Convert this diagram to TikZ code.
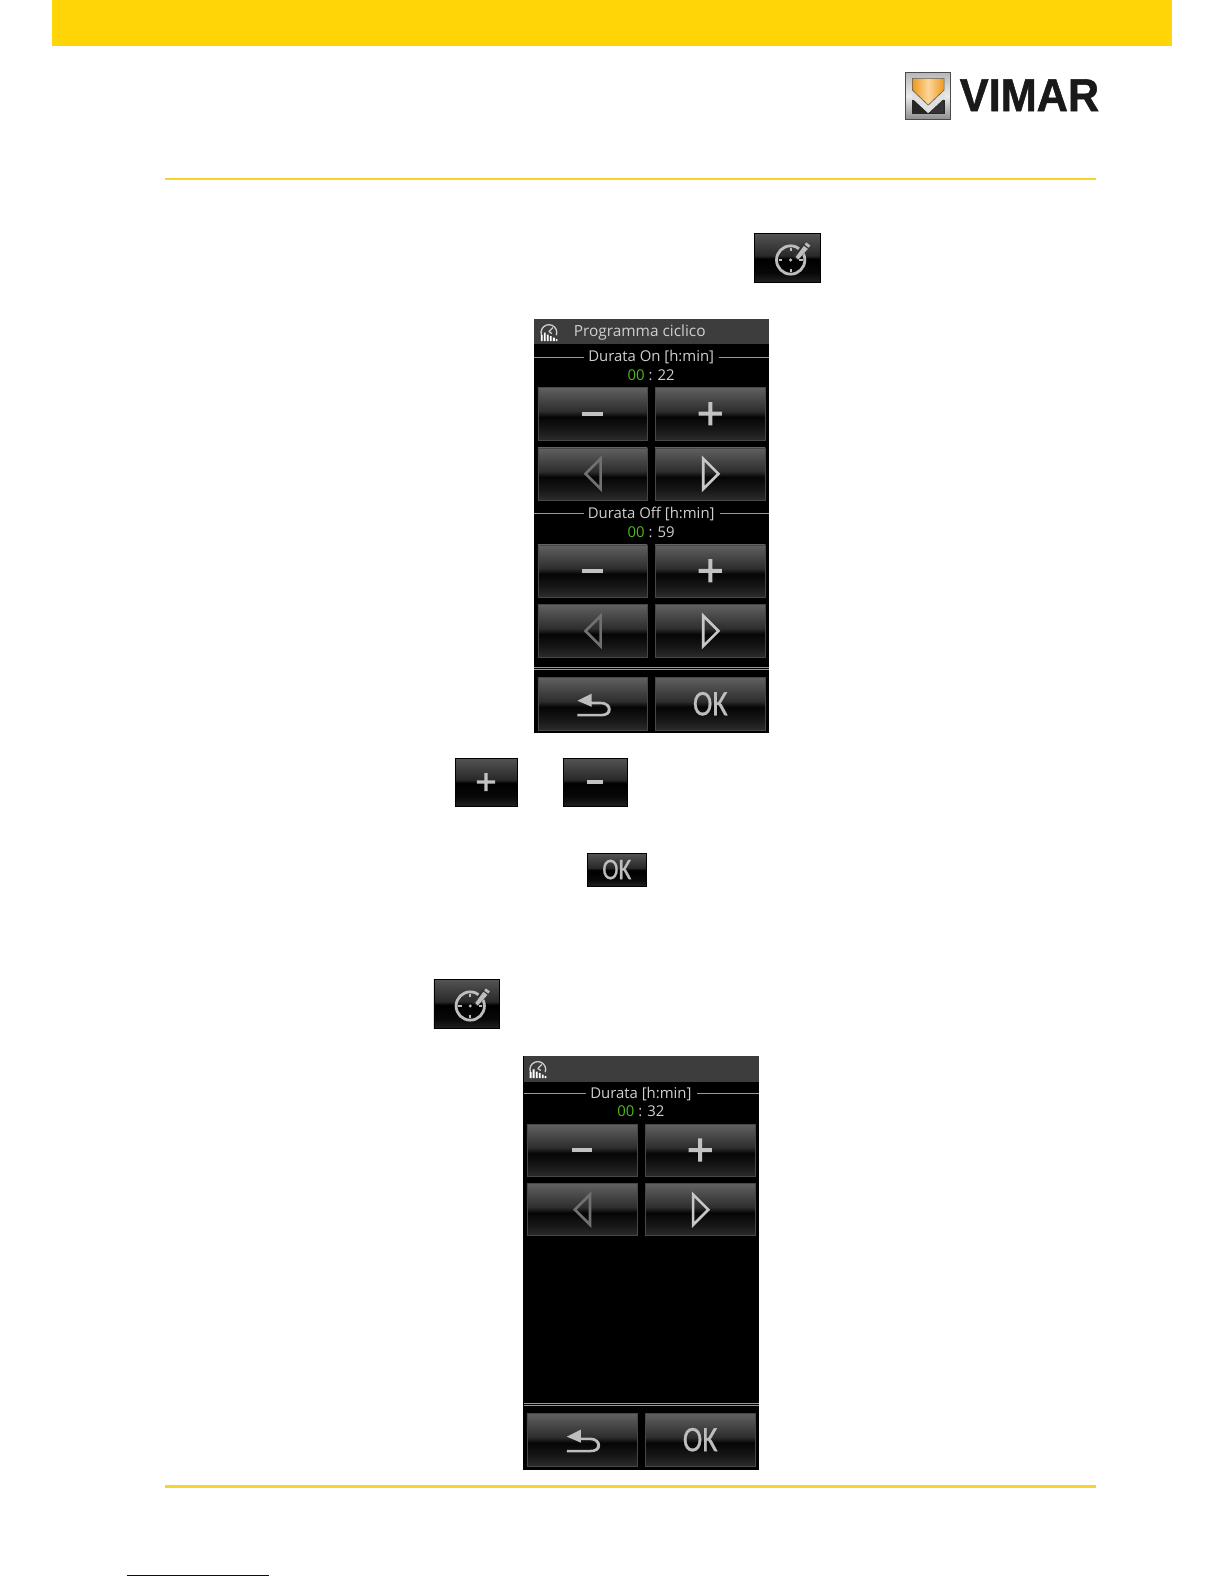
\documentclass[tikz,border=0pt]{standalone}
\usepackage{fontspec}
\setmainfont{Open Sans}
\newfontfamily\okfont[FakeBold=.6]{Carlito}
\newfontfamily\logofont[BoldFeatures={FakeBold=1.2}]{Liberation Sans}
\pgfdeclareverticalshading{uibtnshade}{100bp}{rgb(0bp)=(.17,.17,.17);rgb(25bp)=(.17,.17,.17);rgb(35bp)=(.09,.09,.09);rgb(47bp)=(.02,.02,.02);rgb(52.5bp)=(.18,.18,.18);rgb(75bp)=(.38,.38,.38);rgb(100bp)=(.38,.38,.38)}
\pgfdeclareverticalshading{uismallshade}{100bp}{rgb(0bp)=(.13,.13,.13);rgb(25bp)=(.13,.13,.13);rgb(35bp)=(.03,.03,.03);rgb(49bp)=(0,0,0);rgb(52.5bp)=(.16,.16,.16);rgb(75bp)=(.33,.33,.33);rgb(100bp)=(.33,.33,.33)}
\pgfdeclareverticalshading{uilogoshade}{100bp}{rgb(0bp)=(.55,.55,.55);rgb(25bp)=(.55,.55,.55);rgb(50bp)=(.92,.92,.92);rgb(75bp)=(.72,.72,.72);rgb(100bp)=(.72,.72,.72)}
\pgfdeclarehorizontalshading{uishieldshade}{100bp}{rgb(0bp)=(.93,.6,.12);rgb(25bp)=(.93,.6,.12);rgb(50bp)=(.99,.84,.6);rgb(75bp)=(.93,.6,.12);rgb(100bp)=(.93,.6,.12)}
\definecolor{uibright}{HTML}{BDBDBD}
\definecolor{uidim}{HTML}{707070}
\definecolor{uigreen}{HTML}{4FB81E}
\definecolor{uitext}{HTML}{CFCFCF}
\definecolor{vimaryellow}{HTML}{FFD507}
\definecolor{ruleyellow}{HTML}{F8D42A}
\tikzset{
  panelbox/.style={fill=black,draw=none,inner sep=0pt,minimum width=#1},
  uibox/.style={shading=uibtnshade,draw=black!72,line width=.5pt,inner sep=0pt,outer sep=0pt},
  iconbox/.style={shading=uismallshade,draw=black,line width=.5pt,inner sep=0pt,outer sep=0pt},
  paneltext/.style={text=uitext,font=\fontsize{14.9}{16}\selectfont,inner sep=1pt},
  headertext/.style={text=uitext,font=\fontsize{15.4}{16}\selectfont,inner sep=0pt,anchor=west},
  rulerline/.style={draw=#1,line width=2.2pt},
  thinwhite/.style={draw=black!40,line width=.8pt},
  oktext/.style={text=#1,inner sep=0pt,font=\okfont},
}
% #1 style, #2 name, #3..#6 box, #7 glyph
\newcommand{\uibutton}[7]{%
  \node[#1,minimum width={(#5-#3-1)*1.0108pt},minimum height={(#6-#4-.5)*1.0108pt}] (#2) at ({(#3+#5)/2-.3},{(#4+#6)/2-.3}) {};
  \begin{scope}[shift={(#2.center)}]#7\end{scope}}
\newcommand{\gminus}[2]{\fill[uibright!92!white] (-#1,-#2) rectangle (#1,#2);}
\newcommand{\gplus}[2]{\fill[uibright!92!white] (-#1,-#2) rectangle (#1,#2) (-#2,-#1) rectangle (#2,#1);}
\newcommand{\gleft}{\draw[uidim,line width=2.6pt,line join=miter] (8,-15) -- (-7,0) -- (8,15) -- cycle;}
\newcommand{\gright}{\draw[uibright!85,line width=2.6pt,line join=miter] (-7,-15) -- (8,0) -- (-7,15) -- cycle;}
\newcommand{\gback}{%
  \fill[uibright] (-15,-3) -- (-1,-10) -- (-1,-2) -- (8,-2) .. controls (15,-2) and (18,2) .. (18,5.5) .. controls (18,10) and (15,12.5) .. (8,12.5) -- (-15,12.5) -- (-15,10) -- (8,10) .. controls (12,10) and (15,9) .. (15,5.5) .. controls (15,2.5) and (12,.5) .. (8,.5) -- (-1,.5) -- (-1,3) -- cycle;}
\newcommand{\gclock}{%
  \draw[uibright,line width=2.8pt] (0,0) circle (14);
  \fill[uibright] (0,0) circle (1.7);
  \draw[uibright,line width=2.2pt] (0,-12) -- (0,-8.5) (0,8.5) -- (0,12) (-12,0) -- (-8.5,0) (8.5,0) -- (12,0);
  \fill[black!80] (2.5,-3.5) -- (12.5,-16.5) -- (18.5,-12) -- (7,0) -- cycle;
  \fill[uibright] (5,-3) -- (13,-14) -- (17,-11) -- (7.5,-.5) -- cycle;
  \fill[uibright] (13.8,-15.2) -- (15.4,-17.4) -- (19.4,-14.4) -- (17.8,-12.2) -- cycle;}
\newcommand{\gaugeicon}[2]{%
  \begin{scope}[shift={(#1,#2)}]
    \draw[uitext,line width=1.3pt] (-7.3,2.67) arc (160:380:7.8);
    \draw[uitext,line width=1.2pt] (0,-1) -- (4,-5) (0,-1) -- (3,1);
    \fill[white] (-8,2.5) rectangle (-6.2,8.5) (-5,0) rectangle (-3.2,8.5) (-2,2) rectangle (-.2,8.5) (1,3.5) rectangle (2.8,8.5) (4,5) rectangle (5.8,8.5) (6.8,6.5) rectangle (8.4,8.5);
  \end{scope}}
\begin{document}
\begin{tikzpicture}[x=1.0108pt,y=-1.0108pt]
\useasboundingbox (0,0) rectangle (1211,1567);
\fill[white] (0,0) rectangle (1211,1567);
% page furniture
\fill[vimaryellow] (51,0) rectangle (1159.5,45.5);
\draw[rulerline=ruleyellow] (163,177) -- (1084.5,177);
\draw[rulerline=ruleyellow] (163,1470.5) -- (1084.5,1470.5);
\draw[draw={rgb,255:red,0;green,0;blue,128},line width=1pt] (126,1558.5) -- (266.5,1558.5);
% logo
\node[shading=uilogoshade,draw=black!70,line width=.6pt,minimum width=44.5pt,minimum height=47.5pt,inner sep=0pt] (logobox) at (918,95) {};
\fill[black!85] (902,99) rectangle (934.5,113);
\fill[white!88!black] (902,88) -- (918.2,103.5) -- (934.5,88) -- (934.5,97) -- (918.2,112) -- (902,97) -- cycle;
\fill[black!85] (903,98.5) -- (903,112) -- (906,112) -- (917,112) -- cycle;
\fill[black!80] (933.5,98.5) -- (933.5,112) -- (920,112) -- cycle;
\shade[shading=uishieldshade,draw=black!65,line width=.6pt] (902.5,77.5) -- (934,77.5) -- (934,89) -- (918.2,104) -- (902.5,89) -- cycle;
\node[anchor=west,inner sep=0pt,text=black!90,font=\logofont\bfseries\fontsize{46}{46}\selectfont,xscale=.94] (logotext) at (949.3,94.2) {VIMAR};
% icon button top
\uibutton{iconbox}{clockA}{746}{231}{812}{280}{\begin{scope}[shift={(3.5,2)}]\gclock\end{scope}}
% panel 1
\node[panelbox=235.5pt,minimum height=413.5pt] (panelA) at (644.5,521) {};
\fill[black!76] (528,316) rectangle (761,340);
\gaugeicon{543}{329}
\node[headertext] (titleA) at (567.5,328.8) {Programma ciclico};
\node[paneltext] (durA) at (644.2,353.2) {Durata On [h:min]};
\draw[thinwhite] (durA.west) ++(-3,0) -- (528,353.2|-durA.west);
\draw[thinwhite] (durA.east) ++(4,0) -- (761,353.2|-durA.east);
\node[paneltext] (valA) at (644.2,371) {\textcolor{uigreen}{00} : 22};
\uibutton{uibox}{aminus}{532}{383}{641}{436}{\gminus{10}{2.1}}
\uibutton{uibox}{aplus}{648}{383}{758}{436}{\gplus{11.5}{2}}
\uibutton{uibox}{aleft}{532}{443}{641}{495}{\gleft}
\uibutton{uibox}{aright}{648}{443}{758}{495}{\gright}
\node[paneltext] (dofA) at (644.2,508) {Durata Off [h:min]};
\draw[thinwhite] (dofA.west) ++(-3,0) -- (528,508|-dofA.west);
\draw[thinwhite] (dofA.east) ++(4,0) -- (761,508|-dofA.east);
\node[paneltext] (valB) at (644.2,526.5) {\textcolor{uigreen}{00} : 59};
\uibutton{uibox}{bminus}{532}{539}{641}{591}{\gminus{10}{2.1}}
\uibutton{uibox}{bplus}{648}{539}{758}{591}{\gplus{11.5}{2}}
\uibutton{uibox}{bleft}{532}{598}{641}{651}{\gleft}
\uibutton{uibox}{bright}{648}{598}{758}{651}{\gright}
\draw[thinwhite] (528,660) -- (761,660) (528,662.5) -- (761,662.5);
\uibutton{uibox}{aback}{532}{670}{641}{723}{\gback}
\uibutton{uibox}{aok}{648}{670}{758}{723}{\node[oktext=uibright,xscale=.82,font=\okfont\fontsize{36}{36}\selectfont] (aoklab) at (0,0) {OK};}
% inline buttons
\uibutton{iconbox}{inplus}{450}{750}{512}{798}{\gplus{9}{1.6}}
\uibutton{iconbox}{inminus}{557}{750}{621}{798}{\gminus{8}{1.8}}
\uibutton{iconbox}{inok}{581}{844}{640}{877}{\node[oktext=uibright,xscale=.82,font=\okfont\fontsize{30}{30}\selectfont] (inoklab) at (0,0) {OK};}
\uibutton{iconbox}{clockB}{429}{969}{495}{1018}{\begin{scope}[shift={(3.5,2)}]\gclock\end{scope}}
% panel 2
\node[panelbox=235.5pt,minimum height=413.5pt] (panelB) at (634,1249.5) {};
\fill[black!76] (518,1045) rectangle (750.5,1070);
\gaugeicon{532}{1058}
\node[paneltext] (durB) at (634,1081.8) {Durata [h:min]};
\draw[thinwhite] (durB.west) ++(-3,0) -- (518,1081.8|-durB.west);
\draw[thinwhite] (durB.east) ++(4,0) -- (750.5,1081.8|-durB.east);
\node[paneltext] (valC) at (634,1099.7) {\textcolor{uigreen}{00} : 32};
\uibutton{uibox}{cminus}{521}{1112}{631}{1164}{\gminus{10}{2.1}}
\uibutton{uibox}{cplus}{638}{1112}{748}{1164}{\gplus{11.5}{2}}
\uibutton{uibox}{cleft}{521}{1171}{631}{1223}{\gleft}
\uibutton{uibox}{cright}{638}{1171}{748}{1223}{\gright}
\draw[thinwhite] (518,1388) -- (750.5,1388) (518,1390.5) -- (750.5,1390.5);
\uibutton{uibox}{cback}{521}{1398}{631}{1451}{\gback}
\uibutton{uibox}{cok}{638}{1398}{748}{1451}{\node[oktext=uibright,xscale=.82,font=\okfont\fontsize{36}{36}\selectfont] (coklab) at (0,0) {OK};}
\end{tikzpicture}
\end{document}
